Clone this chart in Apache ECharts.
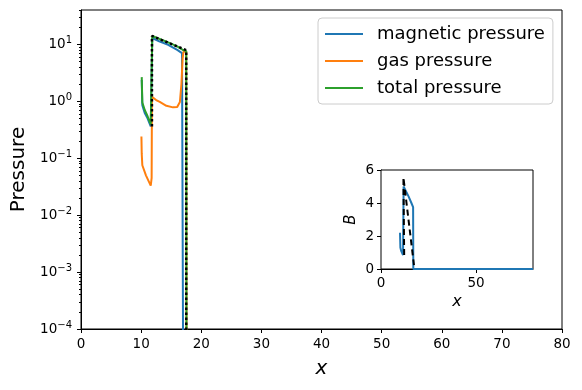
<!DOCTYPE html>
<html>
<head>
<meta charset="utf-8">
<script src="https://cdn.jsdelivr.net/npm/echarts@6/dist/echarts.min.js"></script>
<style>
  html, body { margin: 0; padding: 0; background: #fff; }
  #main { width: 582px; height: 390px; }
</style>
</head>
<body>
<div id="main"></div>
<script>
// main panel: pressures on log scale, [x, value]
var magneticPressure = [
  [10.1, 2.35], [10.2, 0.85], [10.6, 0.62], [11.0, 0.52], [11.6, 0.36], [11.8, 0.36],
  [11.85, 12.8], [13.0, 11.3], [14.5, 9.8], [16.0, 8.0], [16.8, 7.0], [16.95, 6.7], [17.0, 1e-5]
];
var gasPressure = [
  [10.05, 0.24], [10.1, 0.12], [10.2, 0.075], [10.8, 0.05], [11.6, 0.033], [11.75, 0.045],
  [11.8, 1.2], [12.5, 1.05], [13.1, 0.97], [14.2, 0.83], [15.3, 0.78], [16.0, 0.79],
  [16.45, 0.97], [16.7, 2.0], [16.9, 5.6], [17.05, 7.4], [17.5, 7.5], [17.55, 1e-5]
];
var totalPressure = [
  [10.1, 2.65], [10.2, 0.95], [10.6, 0.7], [11.0, 0.57], [11.6, 0.39], [11.8, 0.39],
  [11.85, 14.0], [13.0, 12.5], [14.5, 10.8], [16.0, 9.2], [17.0, 7.9], [17.5, 7.6], [17.55, 1e-5]
];
var exactTotal = [
  [11.8, 0.36], [11.8, 14.0], [17.5, 7.9], [17.5, 1e-5]
];

// inset: B against x
var insetB = [
  [10.0, 2.2], [10.1, 2.15], [10.2, 1.3], [10.6, 1.1], [11.0, 1.0], [11.6, 0.85],
  [11.9, 5.0], [13.0, 4.75], [14.5, 4.4], [16.0, 4.0], [16.9, 3.75], [17.0, 0], [80, 0]
];
var insetExact = [
  [12.2, 0.85], [11.8, 5.55], [17.6, 0]
];

var xTicksMain = [0, 10, 20, 30, 40, 50, 60, 70, 80];
var yTicksMain = [1e-4, 1e-3, 1e-2, 1e-1, 1, 10];
var yMinorTicks = [];
for (var d = -4; d <= 1; d++) {
  for (var m = 2; m <= 9; m++) {
    var v = m * Math.pow(10, d);
    if (v <= 40) yMinorTicks.push(v);
  }
}
var xTicksInset = [0, 50];

var font = 'DejaVu Sans';

function powLabel(v) {
  var e = Math.round(Math.log10(v));
  var s = e < 0 ? '\u2212' + (-e) : '' + e;
  return '{b|10}{s|' + s + '}';
}

var chart = echarts.init(document.getElementById('main'));
var option = {
  animation: false,
  backgroundColor: '#fff',
  textStyle: { fontFamily: font },
  grid: [
    { left: 81, top: 10, right: 20, bottom: 61, show: true, borderColor: '#000', borderWidth: 1, backgroundColor: 'transparent' },
    { left: 381, top: 170, width: 152, height: 99, show: true, borderColor: '#000', borderWidth: 1, backgroundColor: '#fff', z: 5 }
  ],
  legend: {
    data: ['magnetic pressure', 'gas pressure', 'total pressure'],
    orient: 'vertical',
    left: 318,
    top: 18,
    selectedMode: false,
    backgroundColor: 'rgba(255,255,255,0.8)',
    borderColor: '#cccccc',
    borderWidth: 1,
    borderRadius: 4,
    padding: [7, 8, 7, 7],
    itemGap: 9,
    itemWidth: 38,
    itemHeight: 2,
    icon: 'rect',
    textStyle: { fontFamily: font, fontSize: 18, color: '#000', lineHeight: 18, padding: [0, 0, 0, 9] }
  },
  xAxis: [
    {
      type: 'value', gridIndex: 0, min: 0, max: 80, interval: 10,
      name: 'x', nameLocation: 'middle', nameGap: 30,
      nameTextStyle: { fontFamily: font, fontSize: 20, fontStyle: 'italic', color: '#000' },
      axisLine: { lineStyle: { color: '#000', width: 1 } },
      axisTick: { length: 4, lineStyle: { color: '#000' } },
      axisLabel: { fontFamily: font, fontSize: 13.5, color: '#000', margin: 8 },
      splitLine: { show: false }
    },
    {
      type: 'value', gridIndex: 1, min: 0, max: 80,
      name: 'x', nameLocation: 'middle', nameGap: 25,
      nameTextStyle: { fontFamily: font, fontSize: 16, fontStyle: 'italic', color: '#000' },
      axisLine: { lineStyle: { color: '#000', width: 1 } },
      axisTick: { length: 4, customValues: xTicksInset, lineStyle: { color: '#000' } },
      axisLabel: { fontFamily: font, fontSize: 13.5, color: '#000', margin: 7, customValues: xTicksInset },
      splitLine: { show: false }
    }
  ],
  yAxis: [
    {
      type: 'log', gridIndex: 0, min: 1e-4, max: 40, position: 'left',
      name: 'Pressure', nameLocation: 'middle', nameGap: 47,
      nameTextStyle: { fontFamily: font, fontSize: 20, color: '#000' },
      axisLine: { show: true, lineStyle: { color: '#000', width: 1 } },
      axisTick: { show: true, length: 4, customValues: yTicksMain, lineStyle: { color: '#000' } },
      axisLabel: {
        margin: 9, customValues: yTicksMain, formatter: powLabel,
        rich: {
          b: { fontFamily: font, fontSize: 13.5, color: '#000' },
          s: { fontFamily: font, fontSize: 10, color: '#000', padding: [0, 0, 7, 0] }
        }
      },
      splitLine: { show: false }
    },
    {
      type: 'log', gridIndex: 0, min: 1e-4, max: 40, position: 'left',
      axisLine: { show: false },
      axisTick: { show: true, length: 2, customValues: yMinorTicks, lineStyle: { color: '#000' } },
      axisLabel: { show: false },
      splitLine: { show: false }
    },
    {
      type: 'value', gridIndex: 1, min: 0, max: 6, interval: 2,
      name: 'B', nameLocation: 'middle', nameGap: 22,
      nameTextStyle: { fontFamily: font, fontSize: 15, fontStyle: 'italic', color: '#000' },
      axisLine: { show: true, lineStyle: { color: '#000', width: 1 } },
      axisTick: { show: true, length: 4, lineStyle: { color: '#000' } },
      axisLabel: { fontFamily: font, fontSize: 13.5, color: '#000', margin: 7 },
      splitLine: { show: false }
    }
  ],
  series: [
    {
      name: 'magnetic pressure', type: 'line', xAxisIndex: 0, yAxisIndex: 0,
      data: magneticPressure, showSymbol: false, symbol: 'none', clip: true,
      lineStyle: { color: '#1f77b4', width: 2 }, itemStyle: { color: '#1f77b4' }, z: 2
    },
    {
      name: 'gas pressure', type: 'line', xAxisIndex: 0, yAxisIndex: 0,
      data: gasPressure, showSymbol: false, symbol: 'none', clip: true,
      lineStyle: { color: '#ff7f0e', width: 2 }, itemStyle: { color: '#ff7f0e' }, z: 3
    },
    {
      name: 'total pressure', type: 'line', xAxisIndex: 0, yAxisIndex: 0,
      data: totalPressure, showSymbol: false, symbol: 'none', clip: true,
      lineStyle: { color: '#2ca02c', width: 2 }, itemStyle: { color: '#2ca02c' }, z: 4
    },
    {
      name: 'exact total', type: 'line', xAxisIndex: 0, yAxisIndex: 0,
      data: exactTotal, showSymbol: false, symbol: 'none', clip: true,
      lineStyle: { color: '#000', width: 2.5, type: [2.5, 2.5], cap: 'butt' }, z: 5
    },
    {
      name: 'inset B', type: 'line', xAxisIndex: 1, yAxisIndex: 2,
      data: insetB, showSymbol: false, symbol: 'none', clip: true,
      lineStyle: { color: '#1f77b4', width: 2 }, z: 6
    },
    {
      name: 'inset exact', type: 'line', xAxisIndex: 1, yAxisIndex: 2,
      data: insetExact, showSymbol: false, symbol: 'none', clip: true,
      lineStyle: { color: '#000', width: 2, type: [6, 4] }, z: 7
    }
  ]
};
chart.setOption(option);
</script>
</body>
</html>
